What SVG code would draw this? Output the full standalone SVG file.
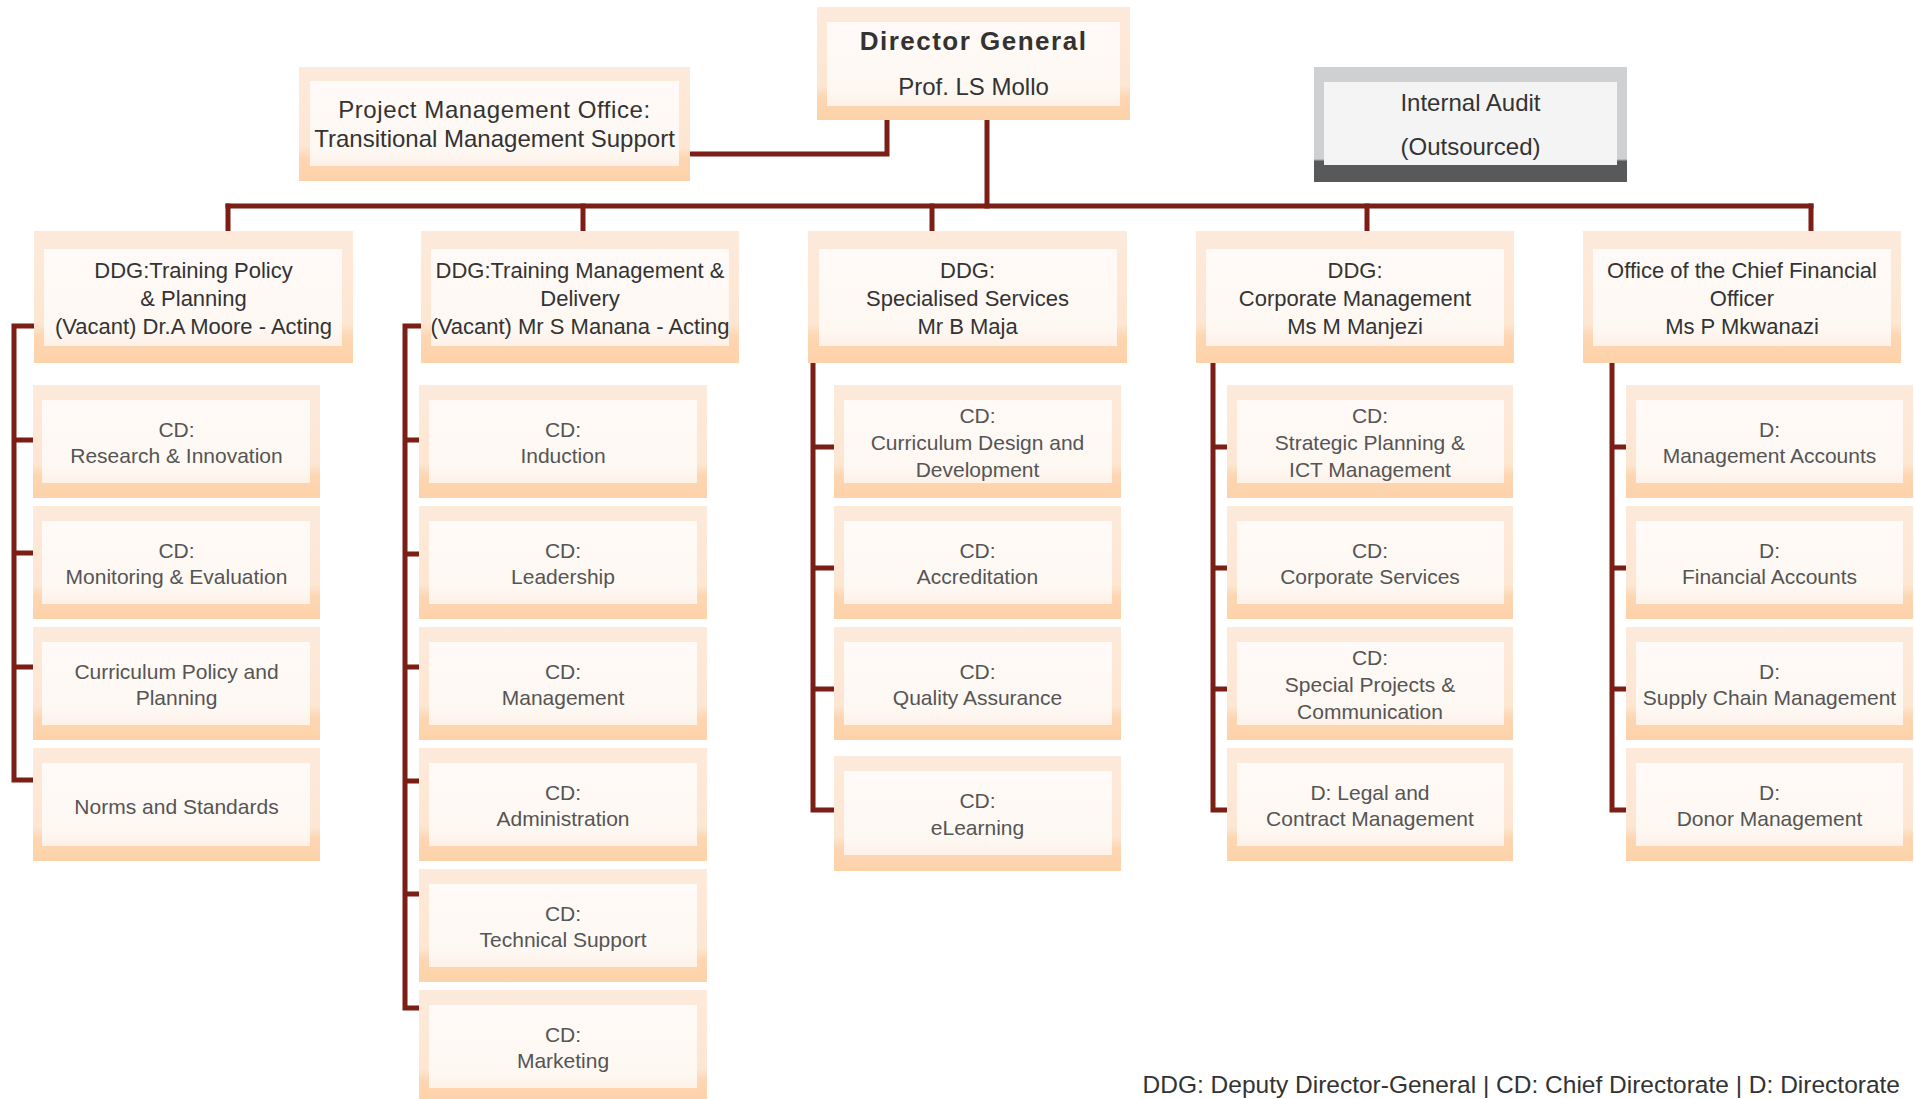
<svg xmlns="http://www.w3.org/2000/svg" width="1915" height="1099" viewBox="0 0 1915 1099">
<defs>
<linearGradient id="peach" x1="0" y1="0" x2="0" y2="1">
<stop offset="0" stop-color="#fdeadb"/>
<stop offset="0.7" stop-color="#fde6d2"/>
<stop offset="0.8" stop-color="#fdd6b2"/>
<stop offset="1" stop-color="#fdd2a9"/>
</linearGradient>
<linearGradient id="grey" x1="0" y1="0" x2="0" y2="1">
<stop offset="0" stop-color="#cfd0d2"/>
<stop offset="0.8" stop-color="#cfd0d2"/>
<stop offset="0.82" stop-color="#58595b"/>
<stop offset="1" stop-color="#58595b"/>
</linearGradient>
<linearGradient id="innerg" x1="0" y1="0" x2="0" y2="1">
<stop offset="0" stop-color="#fefaf7"/>
<stop offset="0.8" stop-color="#fef8f3"/>
<stop offset="1" stop-color="#fdf1e8"/>
</linearGradient>
</defs>
<style>
.ob{fill:url(#peach)}
.ib{fill:url(#innerg)}
.og{fill:url(#grey)}
.ig{fill:#f3f4f3}
.ln{fill:none;stroke:#7b1e16;stroke-width:5;stroke-linecap:square;stroke-linejoin:miter}
text{font-family:"Liberation Sans",Arial,sans-serif;text-anchor:middle}
.tt{font-size:24px;fill:#333}
.tw{letter-spacing:0.6px}
.tb{font-size:26px;font-weight:bold;fill:#333;letter-spacing:1.5px}
.td{font-size:22px;fill:#333}
.tc{font-size:21px;fill:#555}
.tf{font-size:24.5px;fill:#333;text-anchor:end}
</style>

<g id="connectors">
<path class="ln" d="M690,154 H887 V120"/>
<path class="ln" d="M987,120 V206"/>
<path class="ln" d="M228,206 H1811"/>
<path class="ln" d="M228,206 V231 M583,206 V231 M932,206 V231 M1367,206 V231 M1811,206 V231"/>
<path class="ln" d="M34,326 H14 V780 H33 M14,440 H33 M14,553 H33 M14,667 H33"/>
<path class="ln" d="M421,326 H405 V1008 H419 M405,440 H419 M405,554 H419 M405,667 H419 M405,781 H419 M405,894 H419"/>
<path class="ln" d="M813,363 V810 H834 M813,447 H834 M813,568 H834 M813,689 H834"/>
<path class="ln" d="M1213,363 V810 H1227 M1213,447 H1227 M1213,568 H1227 M1213,689 H1227"/>
<path class="ln" d="M1612,363 V810 H1626 M1612,447 H1626 M1612,568 H1626 M1612,689 H1626"/>
</g>

<g id="dg">
<rect class="ob" x="817" y="7" width="313" height="113"/>
<rect class="ib" x="827" y="22" width="293" height="84"/>
<text class="tb" x="973.5" y="50">Director General</text>
<text class="tt" x="973.5" y="95">Prof. LS Mollo</text>
</g>

<g id="pmo">
<rect class="ob" x="299" y="67" width="391" height="114"/>
<rect class="ib" x="310" y="81" width="369" height="85"/>
<text class="tt tw" x="494.5" y="118">Project Management Office:</text>
<text class="tt" x="494.5" y="147">Transitional Management Support</text>
</g>

<g id="internal-audit">
<rect class="og" x="1314" y="67" width="313" height="115"/>
<rect class="ig" x="1324" y="82" width="293" height="83"/>
<text class="tt" x="1470.5" y="111">Internal Audit</text>
<text class="tt" x="1470.5" y="155">(Outsourced)</text>
</g>

<g id="ddg1">
<rect class="ob" x="34" y="231" width="319" height="132"/>
<rect class="ib" x="44" y="249" width="298" height="97"/>
<text class="td" x="193.5" y="278">DDG:Training Policy</text>
<text class="td" x="193.5" y="306">&amp; Planning</text>
<text class="td" x="193.5" y="334">(Vacant) Dr.A Moore - Acting</text>
</g>
<g id="ddg2">
<rect class="ob" x="421" y="231" width="318" height="132"/>
<rect class="ib" x="431" y="249" width="298" height="97"/>
<text class="td" x="580" y="278">DDG:Training Management &amp;</text>
<text class="td" x="580" y="306">Delivery</text>
<text class="td" x="580" y="334">(Vacant) Mr S Manana - Acting</text>
</g>
<g id="ddg3">
<rect class="ob" x="808" y="231" width="319" height="132"/>
<rect class="ib" x="819" y="249" width="298" height="97"/>
<text class="td" x="967.5" y="278">DDG:</text>
<text class="td" x="967.5" y="306">Specialised Services</text>
<text class="td" x="967.5" y="334">Mr B Maja</text>
</g>
<g id="ddg4">
<rect class="ob" x="1196" y="231" width="318" height="132"/>
<rect class="ib" x="1206" y="249" width="298" height="97"/>
<text class="td" x="1355" y="278">DDG:</text>
<text class="td" x="1355" y="306">Corporate Management</text>
<text class="td" x="1355" y="334">Ms M Manjezi</text>
</g>
<g id="cfo">
<rect class="ob" x="1583" y="231" width="318" height="132"/>
<rect class="ib" x="1593" y="249" width="298" height="97"/>
<text class="td" x="1742" y="278">Office of the Chief Financial</text>
<text class="td" x="1742" y="306">Officer</text>
<text class="td" x="1742" y="334">Ms P Mkwanazi</text>
</g>

<!-- column 1 -->
<g id="cd-research">
<rect class="ob" x="33" y="385" width="287" height="113"/>
<rect class="ib" x="42" y="400" width="268" height="83"/>
<text class="tc" x="176.5" y="437">CD:</text>
<text class="tc" x="176.5" y="463">Research &amp; Innovation</text>
</g>
<g id="cd-monitoring">
<rect class="ob" x="33" y="506" width="287" height="113"/>
<rect class="ib" x="42" y="521" width="268" height="83"/>
<text class="tc" x="176.5" y="558">CD:</text>
<text class="tc" x="176.5" y="584">Monitoring &amp; Evaluation</text>
</g>
<g id="curriculum-policy">
<rect class="ob" x="33" y="627" width="287" height="113"/>
<rect class="ib" x="42" y="642" width="268" height="83"/>
<text class="tc" x="176.5" y="679">Curriculum Policy and</text>
<text class="tc" x="176.5" y="705">Planning</text>
</g>
<g id="norms">
<rect class="ob" x="33" y="748" width="287" height="113"/>
<rect class="ib" x="42" y="763" width="268" height="83"/>
<text class="tc" x="176.5" y="814">Norms and Standards</text>
</g>

<!-- column 2 -->
<g id="cd-induction">
<rect class="ob" x="419" y="385" width="288" height="113"/>
<rect class="ib" x="429" y="400" width="268" height="83"/>
<text class="tc" x="563" y="437">CD:</text>
<text class="tc" x="563" y="463">Induction</text>
</g>
<g id="cd-leadership">
<rect class="ob" x="419" y="506" width="288" height="113"/>
<rect class="ib" x="429" y="521" width="268" height="83"/>
<text class="tc" x="563" y="558">CD:</text>
<text class="tc" x="563" y="584">Leadership</text>
</g>
<g id="cd-management">
<rect class="ob" x="419" y="627" width="288" height="113"/>
<rect class="ib" x="429" y="642" width="268" height="83"/>
<text class="tc" x="563" y="679">CD:</text>
<text class="tc" x="563" y="705">Management</text>
</g>
<g id="cd-administration">
<rect class="ob" x="419" y="748" width="288" height="113"/>
<rect class="ib" x="429" y="763" width="268" height="83"/>
<text class="tc" x="563" y="800">CD:</text>
<text class="tc" x="563" y="826">Administration</text>
</g>
<g id="cd-technical">
<rect class="ob" x="419" y="869" width="288" height="113"/>
<rect class="ib" x="429" y="884" width="268" height="83"/>
<text class="tc" x="563" y="921">CD:</text>
<text class="tc" x="563" y="947">Technical Support</text>
</g>
<g id="cd-marketing">
<rect class="ob" x="419" y="990" width="288" height="113"/>
<rect class="ib" x="429" y="1005" width="268" height="83"/>
<text class="tc" x="563" y="1042">CD:</text>
<text class="tc" x="563" y="1068">Marketing</text>
</g>

<!-- column 3 -->
<g id="cd-curriculum-design">
<rect class="ob" x="834" y="385" width="287" height="113"/>
<rect class="ib" x="844" y="400" width="268" height="83"/>
<text class="tc" x="977.5" y="423">CD:</text>
<text class="tc" x="977.5" y="450">Curriculum Design and</text>
<text class="tc" x="977.5" y="477">Development</text>
</g>
<g id="cd-accreditation">
<rect class="ob" x="834" y="506" width="287" height="113"/>
<rect class="ib" x="844" y="521" width="268" height="83"/>
<text class="tc" x="977.5" y="558">CD:</text>
<text class="tc" x="977.5" y="584">Accreditation</text>
</g>
<g id="cd-quality">
<rect class="ob" x="834" y="627" width="287" height="113"/>
<rect class="ib" x="844" y="642" width="268" height="83"/>
<text class="tc" x="977.5" y="679">CD:</text>
<text class="tc" x="977.5" y="705">Quality Assurance</text>
</g>
<g id="cd-elearning">
<rect class="ob" x="834" y="756" width="287" height="115"/>
<rect class="ib" x="844" y="771" width="268" height="84"/>
<text class="tc" x="977.5" y="808">CD:</text>
<text class="tc" x="977.5" y="835">eLearning</text>
</g>

<!-- column 4 -->
<g id="cd-strategic">
<rect class="ob" x="1227" y="385" width="286" height="113"/>
<rect class="ib" x="1237" y="400" width="267" height="83"/>
<text class="tc" x="1370" y="423">CD:</text>
<text class="tc" x="1370" y="450">Strategic Planning &amp;</text>
<text class="tc" x="1370" y="477">ICT Management</text>
</g>
<g id="cd-corporate">
<rect class="ob" x="1227" y="506" width="286" height="113"/>
<rect class="ib" x="1237" y="521" width="267" height="83"/>
<text class="tc" x="1370" y="558">CD:</text>
<text class="tc" x="1370" y="584">Corporate Services</text>
</g>
<g id="cd-special">
<rect class="ob" x="1227" y="627" width="286" height="113"/>
<rect class="ib" x="1237" y="642" width="267" height="83"/>
<text class="tc" x="1370" y="665">CD:</text>
<text class="tc" x="1370" y="692">Special Projects &amp;</text>
<text class="tc" x="1370" y="719">Communication</text>
</g>
<g id="d-legal">
<rect class="ob" x="1227" y="748" width="286" height="113"/>
<rect class="ib" x="1237" y="763" width="267" height="83"/>
<text class="tc" x="1370" y="800">D: Legal and</text>
<text class="tc" x="1370" y="826">Contract Management</text>
</g>

<!-- column 5 -->
<g id="d-management-accounts">
<rect class="ob" x="1626" y="385" width="287" height="113"/>
<rect class="ib" x="1636" y="400" width="267" height="83"/>
<text class="tc" x="1769.5" y="437">D:</text>
<text class="tc" x="1769.5" y="463">Management Accounts</text>
</g>
<g id="d-financial-accounts">
<rect class="ob" x="1626" y="506" width="287" height="113"/>
<rect class="ib" x="1636" y="521" width="267" height="83"/>
<text class="tc" x="1769.5" y="558">D:</text>
<text class="tc" x="1769.5" y="584">Financial Accounts</text>
</g>
<g id="d-supply-chain">
<rect class="ob" x="1626" y="627" width="287" height="113"/>
<rect class="ib" x="1636" y="642" width="267" height="83"/>
<text class="tc" x="1769.5" y="679">D:</text>
<text class="tc" x="1769.5" y="705">Supply Chain Management</text>
</g>
<g id="d-donor">
<rect class="ob" x="1626" y="748" width="287" height="113"/>
<rect class="ib" x="1636" y="763" width="267" height="83"/>
<text class="tc" x="1769.5" y="800">D:</text>
<text class="tc" x="1769.5" y="826">Donor Management</text>
</g>

<g id="legend">
<text class="tf" x="1900" y="1093">DDG: Deputy Director-General | CD: Chief Directorate | D: Directorate</text>
</g>
</svg>
